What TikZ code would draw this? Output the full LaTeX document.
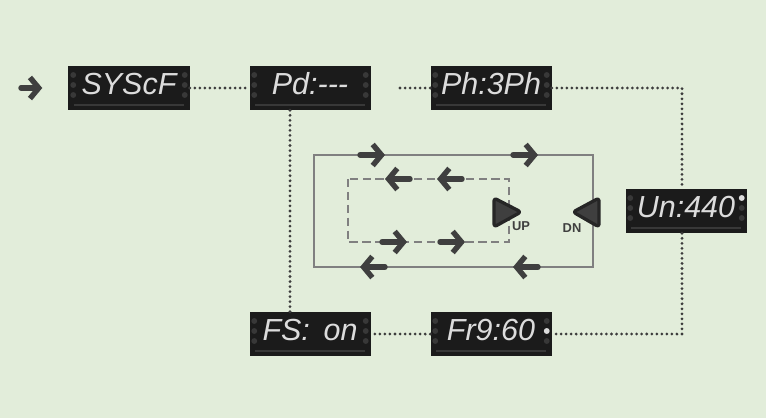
\documentclass[tikz,border=0pt]{standalone}
\usepackage{fontspec}
\setmainfont{Liberation Sans}
\usetikzlibrary{arrows.meta}

\definecolor{bggreen}{HTML}{E2EDDA}
\definecolor{lcdbg}{HTML}{1B1B1B}
\definecolor{lcdtxt}{HTML}{DCDCDC}
\definecolor{lcddot}{HTML}{383838}
\definecolor{loopgray}{HTML}{808080}
\definecolor{arrgray}{HTML}{3F3F3F}
\definecolor{linkgray}{HTML}{3C3C3C}

\tikzset{
  lcd/.style={fill=lcdbg, text=lcdtxt, minimum width=3.63cm, minimum height=1.32cm,
    inner sep=0pt, text depth=7pt, font=\fontsize{26}{26}\selectfont\itshape},
  link/.style={draw=linkgray, line width=2.6pt, line cap=round, dash pattern=on 0pt off 4.3pt},
  flow/.style={arrgray, line width=4.6pt, line cap=round, line join=round,
    -{Straight Barb[length=7.5pt,width=18pt]}},
  pad/.style={fill=arrgray, draw=black!85, line width=2.8pt, line join=round, rounded corners=2.5pt},
  padlbl/.style={text=arrgray, font=\fontsize{11}{11}\selectfont\bfseries, inner sep=0pt}
}

\begin{document}
\begin{tikzpicture}[x=0.03cm, y=-0.03cm]
   \fill[bggreen] (0,0) rectangle (766,418);
   \useasboundingbox (0,0) rectangle (766,418);

   \node[lcd] (sys) at (129,88) {SYScF};
   \node[lcd] (pd) at (310,88) {Pd:-{}-{}-};
   \node[lcd] (ph) at (491,88) {Ph:3Ph};
   \node[lcd] (un) at (686,211) {Un:440};
   \node[lcd] (fs) at (310,334) {FS:\hspace{0.45em}on};
   \node[lcd] (fr) at (491,334) {Fr9:60};

   % side dots and bottom bar of each display
   \foreach \n in {sys,pd,ph,un,fs,fr}{
      \foreach \dy in {-13,-3,7}{
         \fill[lcddot] ([shift={(5,\dy)}]\n.west) circle (2.5pt);
         \fill[lcddot] ([shift={(-5,\dy)}]\n.east) circle (2.5pt);
      }
      \draw[lcddot, line width=1.5pt] ([shift={(6,17)}]\n.west) -- ([shift={(-6,17)}]\n.east);
   }
   \fill[lcdtxt] ([shift={(-5,-13)}]un.east) circle (2.5pt);
   \fill[lcdtxt] ([shift={(-5,-3)}]fr.east) circle (2.5pt);

   % menu path
   \coordinate (entry) at (21,88);
   \coordinate (gap) at (400,88);
   \draw[flow] (entry) -- ([shift={(-26,0)}]sys.west);
   \draw[link] (sys) -- (pd);
   \draw[link] (gap) -- (ph);
   \draw[link] (ph.east) -| ([shift={(-4,0)}]un.north);
   \draw[link] ([shift={(-4,0)}]un.south) |- (fr.east);
   \draw[link] (fr) -- (fs);
   \draw[link] ([shift={(-20,0)}]pd.south) -- ([shift={(-20,0)}]fs.north);

   % key loop
   \draw[loopgray, line width=1.8pt] (314,155) rectangle (593,267);
   \draw[loopgray, line width=1.8pt, dash pattern=on 7pt off 4pt] (348,179) rectangle (509,242);

   \foreach \x in {360,513}
   \draw[flow] (\x,155) -- ++(25,0);
   \foreach \x in {385,538}
   \draw[flow] (\x,267) -- ++(-25,0);
   \foreach \x in {410,462}
   \draw[flow] (\x,179) -- ++(-25,0);
   \foreach \x in {382,440}
   \draw[flow] (\x,242) -- ++(25,0);

   \filldraw[pad] (494,198) -- (521,212) -- (494,227) -- cycle;
   \filldraw[pad] (599,198) -- (573,212) -- (599,227) -- cycle;
   \node[padlbl] (uplbl) at (521,226) {UP};
   \node[padlbl] (dnlbl) at (572,228) {DN};
\end{tikzpicture}
\end{document}
